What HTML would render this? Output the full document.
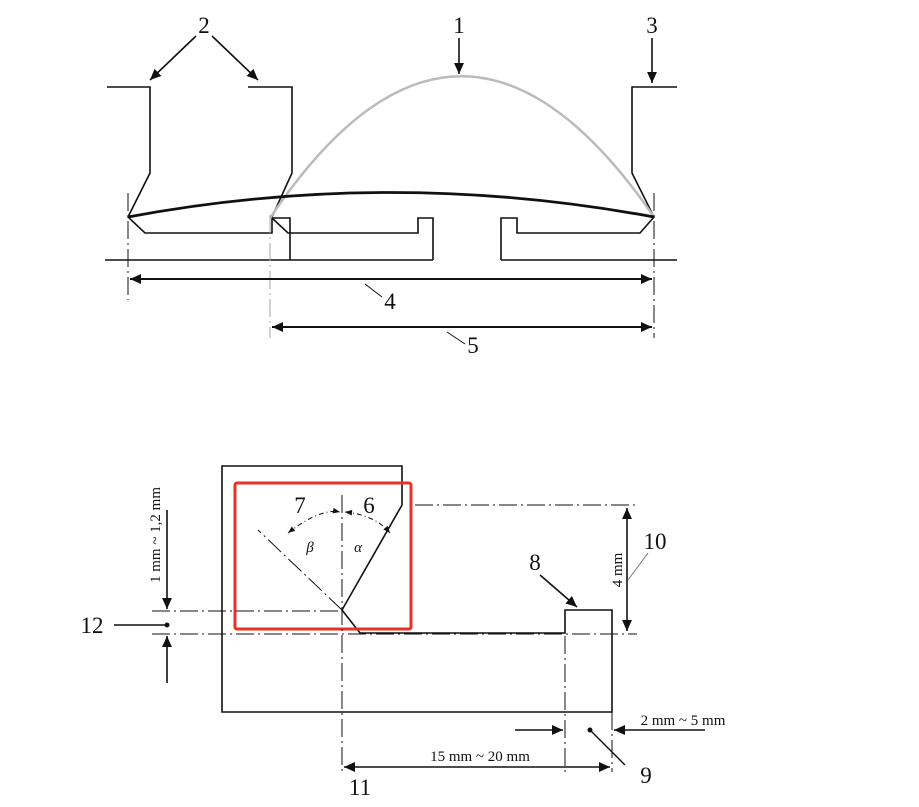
<!DOCTYPE html>
<html><head><meta charset="utf-8"><style>html,body{margin:0;padding:0;background:#fff}svg{display:block}text{font-family:"Liberation Serif",serif;fill:#111}</style></head>
<body>
<svg width="919" height="807" viewBox="0 0 919 807" xmlns="http://www.w3.org/2000/svg">
<defs>
<marker id="a" viewBox="0 0 10 10" refX="10" refY="5" markerWidth="18" markerHeight="11" markerUnits="userSpaceOnUse" orient="auto-start-reverse"><path d="M0,0.5 L10,5 L0,9.5 z" fill="#111"/></marker>
<marker id="s" viewBox="0 0 10 10" refX="10" refY="5" markerWidth="9" markerHeight="7" markerUnits="userSpaceOnUse" orient="auto-start-reverse"><path d="M0,1 L10,5 L0,9 z" fill="#111"/></marker>
</defs>
<g fill="none" stroke="#111" stroke-width="1.6">
<path d="M107,87 H150 V173 L128,217 L145,233 H272 V218 H290 V260"/>
<path d="M248,87 H292 V173 L272,217"/>
<path d="M272,218 L288,233 H418 V218 H433 V260"/>
<path d="M501,260 V218 H517 V233 H640 L654,217 L632,173 V87 H677"/>
<path d="M105,260 H433 M501,260 H677"/>
<path d="M270,218 Q460,-65 654,217" stroke="#bbb" stroke-width="2.5"/>
<path d="M128,217 Q390,168 654,217" stroke-width="2.8"/>
<path d="M128,193 V300 M654,193 V338" stroke-dasharray="18,4,2,4" stroke-width="1"/>
<path d="M270,215 V338" stroke="#aaa" stroke-dasharray="18,4,2,4" stroke-width="1"/>
<path d="M130,279 H652" marker-start="url(#a)" marker-end="url(#a)" stroke-width="2"/>
<path d="M272,327 H652" marker-start="url(#a)" marker-end="url(#a)" stroke-width="2"/>
<path d="M365,284 L382,297 M447,332 L465,344" stroke-width="1"/>
<path d="M196,36 L150,80" marker-end="url(#a)"/>
<path d="M212,36 L258,80" marker-end="url(#a)"/>
<path d="M459,38 V74" marker-end="url(#a)"/>
<path d="M652,38 V83" marker-end="url(#a)"/>
<path d="M222,466 H402 V505 L342,610 L360,633 H565 V610 H612 V712 H222 Z"/>
<rect x="235" y="483" width="176" height="146" stroke="#e5332a" stroke-width="3" rx="2"/>
<g stroke-width="1" stroke-dasharray="18,4,2,4">
<path d="M415,505 H637 M152,611 H340 M152,634 H637 M342,495 V772 M565,636 V772 M612,712 V772 M342,610 L258,530"/>
</g>
<path d="M288,533 Q320,508 340,512" stroke-width="1" stroke-dasharray="5,3,1,3" marker-start="url(#s)" marker-end="url(#s)"/>
<path d="M345,512 Q375,515 390,533" stroke-width="1" stroke-dasharray="5,3,1,3" marker-start="url(#s)" marker-end="url(#s)"/>
<path d="M627,508 V631" marker-start="url(#a)" marker-end="url(#a)"/>
<path d="M628,580 L648,553" stroke="#777" stroke-width="1"/>
<path d="M540,575 L577,607" marker-end="url(#a)"/>
<path d="M167,510 V609" marker-end="url(#a)"/>
<path d="M167,683 V636" marker-end="url(#a)"/>
<path d="M114,625 H165" stroke-width="1.4"/>
<path d="M344,767 H610" marker-start="url(#a)" marker-end="url(#a)"/>
<path d="M515,730 H563" marker-end="url(#a)"/>
<path d="M705,730 H614" marker-end="url(#a)"/>
<path d="M590,730 L625,765" stroke-width="1.4"/>
</g>
<circle cx="167" cy="625" r="2.5" fill="#111"/>
<circle cx="590" cy="730" r="2.5" fill="#111"/>
<g font-size="23">
<text x="204" y="33" text-anchor="middle">2</text>
<text x="459" y="33" text-anchor="middle">1</text>
<text x="652" y="33" text-anchor="middle">3</text>
<text x="390" y="309" text-anchor="middle">4</text>
<text x="473" y="353" text-anchor="middle">5</text>
<text x="300" y="513" text-anchor="middle">7</text>
<text x="369" y="513" text-anchor="middle">6</text>
<text x="535" y="570" text-anchor="middle">8</text>
<text x="655" y="549" text-anchor="middle">10</text>
<text x="92" y="633" text-anchor="middle">12</text>
<text x="360" y="795" text-anchor="middle">11</text>
<text x="646" y="783" text-anchor="middle">9</text>
</g>
<text x="310" y="552" font-size="15" font-style="italic" text-anchor="middle">β</text>
<text x="358" y="552" font-size="15" font-style="italic" text-anchor="middle">α</text>
<g font-size="15">
<text x="480" y="761" text-anchor="middle">15 mm ~ 20 mm</text>
<text x="683" y="725" text-anchor="middle">2 mm ~ 5 mm</text>
<text transform="translate(622,570) rotate(-90)" text-anchor="middle">4 mm</text>
<text transform="translate(160,535) rotate(-90)" text-anchor="middle">1 mm ~ 1,2 mm</text>
</g>
</svg>
</body></html>
